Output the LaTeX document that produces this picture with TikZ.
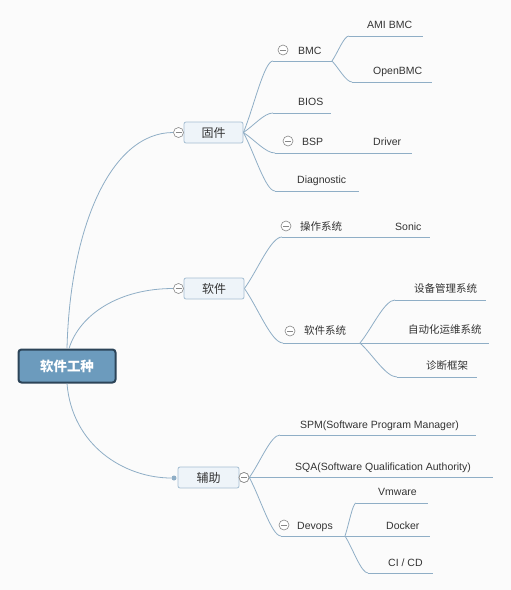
\documentclass[tikz,border=0pt]{standalone}
\usepackage{fontspec}
\setmainfont{Liberation Sans}
\newfontfamily\cjk{Noto Sans CJK SC}
\usetikzlibrary{calc}
\definecolor{lc}{RGB}{143,174,198}
\definecolor{txt}{RGB}{51,51,51}
\definecolor{cg}{RGB}{135,135,135}
\definecolor{bfill}{RGB}{238,244,249}
\definecolor{bdraw}{RGB}{165,190,210}
\definecolor{rfill}{RGB}{108,155,189}
\definecolor{rdraw}{RGB}{44,68,88}
\definecolor{bgc}{RGB}{251,251,251}
\newcommand\fan[2]{\draw[cn] (#1) .. controls ($(#1)!0.35!(#2)$) and ($(#1 |- #2)!0.7!(#2)$) .. (#2);}
\begin{document}
\begin{tikzpicture}[x=1pt,y=-1pt,
  lbl/.style={anchor=base west, inner sep=0pt, text=txt, font=\fontsize{10.5}{12}\selectfont},
  cn/.style={draw=lc, line width=0.8pt},
  col/.style={circle, draw=cg, fill=white, line width=0.6pt, minimum size=10pt, inner sep=0pt,
    path picture={\draw[cg, line width=0.6pt] ([xshift=-3pt]path picture bounding box.center) -- ([xshift=3pt]path picture bounding box.center);}},
  lonebox/.style={draw=bdraw, fill=bfill, line width=0.8pt, rounded corners=2pt, minimum height=21pt, inner sep=0pt, text=txt, font=\cjk\fontsize{12}{14}\selectfont},
  rootbox/.style={draw=rdraw, fill=rfill, line width=2pt, rounded corners=3pt, minimum width=97pt, minimum height=33pt, inner sep=0pt, text=white, font=\cjk\bfseries\fontsize{13.5}{16}\selectfont},
  dotn/.style={circle, fill=lc, minimum size=5pt, inner sep=0pt}
]
\fill[bgc] (0,0) rectangle (511,590);
\useasboundingbox (0,0) rectangle (511,590);

% root and level 1
\node[rootbox] (root) at (67,366) {软件工种};
\node[lonebox, minimum width=59pt] (g1) at (213.5,132.5) {固件};
\node[lonebox, minimum width=60pt] (g2) at (214,288.5) {软件};
\node[lonebox, minimum width=61pt] (g3) at (208.5,477.5) {辅助};
\node[col] (g1c) at (178.5,132.5) {};
\node[col] (g2c) at (178.5,288.5) {};
\node[col] (g3c) at (244,477.5) {};
\node[dotn] (g3d) at (174,478) {};

\draw[cn] (root.north) .. controls +(3,-120) and +(-63,0) .. (g1c.west);
\draw[cn] ([xshift=2pt]root.north) .. controls +(11,-35) and +(-53,0) .. (g2c.west);
\draw[cn] (root.south) .. controls +(5,62) and +(-47,0) .. (g3d.west);

% ---- 固件 branch
\coordinate (bmcS) at (273,61);  \coordinate (bmcE) at (332,61);
\coordinate (amiS) at (349,36);  \coordinate (amiE) at (423,36);
\coordinate (obmS) at (352,82);  \coordinate (obmE) at (432,82);
\coordinate (biosS) at (273,113); \coordinate (biosE) at (331,113);
\coordinate (bspS) at (275,153); \coordinate (bspE) at (335,153);
\coordinate (drvE) at (412,153);
\coordinate (diaS) at (275,191); \coordinate (diaE) at (359,191);

\node[col] (bmcC) at (283,50) {};
\node[lbl] (bmc) at (298,54) {BMC};
\node[lbl] (ami) at (367,28) {AMI BMC};
\node[lbl] (obm) at (373,74) {OpenBMC};
\node[lbl] (bios) at (298,105) {BIOS};
\node[col] (bspC) at (288,141) {};
\node[lbl] (bsp) at (302,145) {BSP};
\node[lbl] (drv) at (373,145) {Driver};
\node[lbl] (dia) at (297,183) {Diagnostic};

\fan{g1.east}{bmcS}  \draw[cn] (bmcS) -- (bmcE);
\fan{bmcE}{amiS}     \draw[cn] (amiS) -- (amiE);
\fan{bmcE}{obmS}     \draw[cn] (obmS) -- (obmE);
\fan{g1.east}{biosS} \draw[cn] (biosS) -- (biosE);
\fan{g1.east}{bspS}  \draw[cn] (bspS) -- (bspE);
\draw[cn] (bspE) -- (drvE);
\fan{g1.east}{diaS}  \draw[cn] (diaS) -- (diaE);

% ---- 软件 branch
\coordinate (osS) at (282,237); \coordinate (osE) at (352,237);
\coordinate (sonE) at (430,237);
\coordinate (swS) at (283,343); \coordinate (swE) at (360,343);
\coordinate (devS) at (395,300); \coordinate (devE) at (486,300);
\coordinate (autoE) at (489,343);
\coordinate (diagS) at (397,377); \coordinate (diagE) at (477,377);

\node[col] (osC) at (286,226) {};
\node[lbl] (os) at (300,230) {\cjk 操作系统};
\node[lbl] (son) at (395,230) {Sonic};
\node[col] (swC) at (290,331) {};
\node[lbl] (sw) at (304,334) {\cjk 软件系统};
\node[lbl] (dev) at (414,292) {\cjk 设备管理系统};
\node[lbl] (auto) at (408,333) {\cjk 自动化运维系统};
\node[lbl] (diag) at (426,369) {\cjk 诊断框架};

\fan{g2.east}{osS} \draw[cn] (osS) -- (osE);
\draw[cn] (osE) -- (sonE);
\fan{g2.east}{swS} \draw[cn] (swS) -- (swE);
\fan{swE}{devS}    \draw[cn] (devS) -- (devE);
\draw[cn] (swE) -- (autoE);
\fan{swE}{diagS}   \draw[cn] (diagS) -- (diagE);

% ---- 辅助 branch
\coordinate (spmS) at (280,435); \coordinate (spmE) at (476,435);
\coordinate (sqaE) at (493,477.5);
\coordinate (dvS) at (281,536); \coordinate (dvE) at (345,536);
\coordinate (vmS) at (356,503); \coordinate (vmE) at (428,503);
\coordinate (dkE) at (430,536);
\coordinate (ciS) at (368,573); \coordinate (ciE) at (433,573);

\node[lbl] (spm) at (300,428) {SPM(Software Program Manager)};
\node[lbl] (sqa) at (295,470) {SQA(Software Qualification Authority)};
\node[col] (dvC) at (284,525) {};
\node[lbl] (dv) at (297,529) {Devops};
\node[lbl] (vm) at (378,495) {Vmware};
\node[lbl] (dk) at (386,529) {Docker};
\node[lbl] (ci) at (388,566) {CI / CD};

\fan{g3c.east}{spmS} \draw[cn] (spmS) -- (spmE);
\draw[cn] (g3c.east) -- (sqaE);
\fan{g3c.east}{dvS}  \draw[cn] (dvS) -- (dvE);
\fan{dvE}{vmS}       \draw[cn] (vmS) -- (vmE);
\draw[cn] (dvE) -- (dkE);
\fan{dvE}{ciS}       \draw[cn] (ciS) -- (ciE);

% redraw circles on top
\node[col] at (g3c) {};
\end{tikzpicture}
\end{document}
